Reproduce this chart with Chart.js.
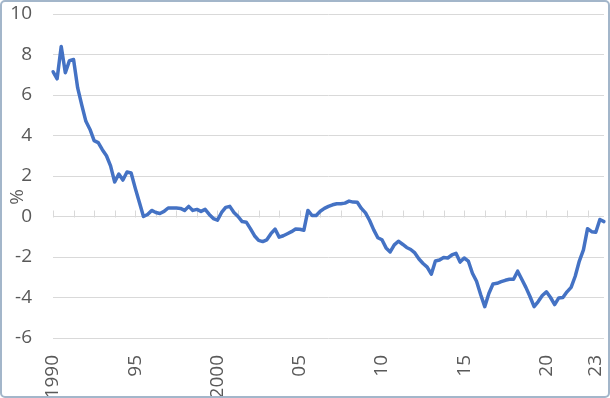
<!DOCTYPE html>
<html>
<head>
<meta charset="utf-8">
<script src="https://cdn.jsdelivr.net/npm/chart.js@4.4.0/dist/chart.umd.min.js"></script>
<style>
  html, body { margin: 0; padding: 0; background: #fff; }
  #wrap { position: relative; width: 610px; height: 398px; }
  #frame { position: absolute; left: 0; top: 0; width: 610px; height: 398px; box-sizing: border-box;
           border: 2px solid #a3b6ca; border-radius: 5px; pointer-events: none; }
  canvas { position: absolute; left: 0; top: 0; }
</style>
</head>
<body>
<div id="wrap">
  <canvas id="chart" width="610" height="398"></canvas>
  <div id="frame"></div>
</div>
<script>
/* ---- Data (quarterly, 1990Q1 - 2023Q3) ---- */
const START_YEAR = 1990;
const values = [
  7.15, 6.8, 8.4, 7.1, 7.7, 7.75, 6.35, 5.5, 4.7, 4.3,
  3.75, 3.65, 3.3, 3.0, 2.5, 1.7, 2.1, 1.8, 2.2, 2.15,
  1.4, 0.7, 0.0, 0.1, 0.3, 0.2, 0.15, 0.25, 0.42, 0.42,
  0.42, 0.4, 0.3, 0.5, 0.3, 0.35, 0.25, 0.35, 0.1, -0.1,
  -0.18, 0.2, 0.45, 0.5, 0.2, 0.0, -0.25, -0.28, -0.6, -0.95,
  -1.18, -1.24, -1.15, -0.85, -0.62, -1.02, -0.95, -0.85, -0.75, -0.62,
  -0.63, -0.68, 0.3, 0.05, 0.05, 0.26, 0.4, 0.5, 0.58, 0.63,
  0.63, 0.66, 0.76, 0.71, 0.7, 0.4, 0.18, -0.2, -0.66, -1.05,
  -1.15, -1.55, -1.75, -1.4, -1.22, -1.37, -1.53, -1.63, -1.8, -2.1,
  -2.32, -2.5, -2.85, -2.2, -2.15, -2.02, -2.05, -1.9, -1.82, -2.25,
  -2.05, -2.2, -2.8, -3.2, -3.85, -4.45, -3.8, -3.33, -3.3, -3.22,
  -3.15, -3.1, -3.1, -2.7, -3.1, -3.5, -3.95, -4.45, -4.2, -3.9,
  -3.72, -4.0, -4.35, -4.02, -4.0, -3.72, -3.5, -2.95, -2.2, -1.65,
  -0.6, -0.75, -0.78, -0.15, -0.25
];
const quarters = values.map((v, i) => (START_YEAR + Math.floor(i / 4)) + 'Q' + (i % 4 + 1));

// labelled categories on the x axis
const tickPos  = [0, 20, 40, 60, 80, 100, 120, 132];
const tickText = ['1990', '95', '2000', '05', '10', '15', '20', '23'];
const yTicks = { min: -6, max: 10, step: 2 };
const MINOR_EVERY = 5; // small marks on the zero line

const GRID = '#d9d9d9';
const TXT = '#595959';
const FONT = "'Open Sans', 'Liberation Sans', sans-serif";

/* ---- zero line tick marks + unit label ---- */
const zeroAxis = {
    id: 'zeroAxis',
    beforeDatasetsDraw(chart) {
        const { ctx, scales: { x, y } } = chart;
        const y0 = Math.round(y.getPixelForValue(0)) + 0.5;
        ctx.save();
        ctx.strokeStyle = GRID;
        ctx.lineWidth = 1;
        ctx.beginPath();
        for (let i = 0; i < quarters.length; i += MINOR_EVERY) {
            const px = Math.round(x.getPixelForValue(i)) + 0.5;
            ctx.moveTo(px, y0);
            ctx.lineTo(px, y0 - 7);
        }
        ctx.stroke();
        ctx.restore();
    },
    afterDraw(chart) {
        const { ctx } = chart;
        ctx.save();
        ctx.translate(18, 197);
        ctx.rotate(-Math.PI / 2);
        ctx.fillStyle = TXT;
        ctx.font = "19px " + FONT;
        ctx.textAlign = 'center';
        ctx.textBaseline = 'middle';
        ctx.fillText('%', 0, 0);
        ctx.restore();
    }
};

new Chart(document.getElementById('chart'), {
    type: 'line',
    data: {
        labels: quarters,
        datasets: [{
            data: values,
            borderColor: '#4472c4',
            borderWidth: 3.5,
            pointRadius: 0,
            tension: 0,
            borderJoinStyle: 'round',
            borderCapStyle: 'round',
            fill: false
        }]
    },
    options: {
        responsive: false,
        animation: false,
        layout: { padding: { top: 14, right: 6, left: 0, bottom: 0 } },
        plugins: { legend: { display: false }, tooltip: { enabled: false } },
        scales: {
            x: {
                offset: false,
                grid: { display: false },
                border: { display: false },
                afterFit: s => { s.height = 60; s.paddingLeft = 0; s.paddingRight = 0; },
                ticks: {
                    autoSkip: false, maxRotation: 90, minRotation: 90, padding: 9,
                    color: TXT, font: { family: FONT, size: 19 },
                    callback: (v, i) => { const k = tickPos.indexOf(i); return k >= 0 ? tickText[k] : null; }
                }
            },
            y: {
                min: yTicks.min, max: yTicks.max,
                grid: { color: GRID, lineWidth: 1, drawTicks: false },
                border: { display: false },
                afterFit: s => { s.width = 53; s.paddingTop = 0; s.paddingBottom = 0; },
                ticks: { stepSize: yTicks.step, padding: 21, color: TXT, font: { family: FONT, size: 19 } }
            }
        }
    },
    plugins: [zeroAxis]
});
</script>
</body>
</html>
